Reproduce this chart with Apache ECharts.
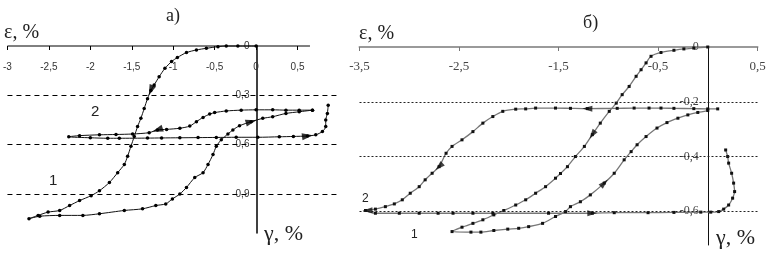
<!DOCTYPE html>
<html lang="ru">
<head>
<meta charset="UTF-8">
<title>ε – γ</title>
<script src="https://cdn.jsdelivr.net/npm/echarts@6/dist/echarts.min.js"></script>
<style>
    html, body { margin: 0; padding: 0; background: #fff; }
    #chart { width: 771px; height: 262px; }
</style>
</head>
<body>
<div id="chart"></div>
<script>
// ---- panel a) ----
var ticksA = [-3, -2.5, -2, -1.5, -1, -0.5, 0, 0.5];
var levelsA = [0, -0.3, -0.6, -0.9];
var gridLinesA = [-0.3, -0.6, -0.9];
var axisEndA = 0.65;
var curveA1 = [
    [0, 0], [-0.22, 0], [-0.36, 0], [-0.46, -0.004], [-0.6, -0.014], [-0.72, -0.024], [-0.84, -0.04],
    [-0.95, -0.07], [-1.02, -0.095], [-1.1, -0.136], [-1.17, -0.187], [-1.23, -0.237], [-1.27, -0.27],
    [-1.31, -0.32], [-1.35, -0.38], [-1.39, -0.44], [-1.43, -0.49], [-1.47, -0.55], [-1.51, -0.61],
    [-1.55, -0.67], [-1.59, -0.72], [-1.67, -0.77], [-1.77, -0.83], [-1.89, -0.88], [-1.99, -0.91],
    [-2.13, -0.94], [-2.25, -0.97], [-2.37, -1.0], [-2.51, -1.01], [-2.63, -1.03], [-2.74, -1.05],
    [-2.61, -1.035], [-2.37, -1.03], [-2.09, -1.03], [-1.89, -1.02], [-1.59, -1.0], [-1.37, -0.99],
    [-1.21, -0.97], [-1.09, -0.96], [-1.01, -0.93], [-0.92, -0.9], [-0.84, -0.86], [-0.74, -0.8],
    [-0.64, -0.77], [-0.58, -0.72], [-0.52, -0.66], [-0.48, -0.61], [-0.42, -0.57], [-0.34, -0.535],
    [-0.28, -0.51], [-0.2, -0.485], [-0.06, -0.46], [0.08, -0.44], [0.2, -0.43], [0.36, -0.41],
    [0.52, -0.4], [0.68, -0.39]
];
var curveA2 = [
    [0.68, -0.39], [0.52, -0.39], [0.36, -0.39], [0.2, -0.388], [0, -0.388], [-0.18, -0.39],
    [-0.36, -0.395], [-0.5, -0.405], [-0.56, -0.414], [-0.64, -0.434], [-0.72, -0.46], [-0.8, -0.487],
    [-0.92, -0.5], [-1.08, -0.507], [-1.19, -0.51], [-1.29, -0.527], [-1.49, -0.535], [-1.69, -0.538],
    [-1.89, -0.54], [-2.13, -0.545], [-2.26, -0.552], [-2.0, -0.558], [-1.79, -0.561], [-1.65, -0.561],
    [-1.31, -0.56], [-1.14, -0.559], [-0.92, -0.558], [-0.7, -0.557], [-0.48, -0.556], [-0.24, -0.555],
    [0.02, -0.555], [0.28, -0.552], [0.45, -0.55], [0.62, -0.547], [0.72, -0.54], [0.8, -0.52],
    [0.84, -0.49], [0.84, -0.45], [0.86, -0.41], [0.87, -0.36]
];
// arrow: [x, y, x ahead, y ahead]
var arrowsA = [
    [-1.27, -0.27, -1.31, -0.32],
    [-0.06, -0.46, 0.08, -0.44],
    [-1.19, -0.51, -1.29, -0.527],
    [0.62, -0.547, 0.72, -0.54]
];

// ---- panel б) ----
var ticksB = [-3.5, -2.5, -1.5, -0.5, 0.5];
var levelsB = [0, -0.2, -0.4, -0.6];
var gridLinesB = [-0.2, -0.4, -0.6];
var curveB1 = [
    [0, 0], [-0.14, -0.004], [-0.24, -0.007], [-0.34, -0.012], [-0.47, -0.02], [-0.57, -0.034],
    [-0.62, -0.058], [-0.67, -0.083], [-0.72, -0.107], [-0.79, -0.144], [-0.86, -0.174], [-0.92, -0.205],
    [-0.99, -0.235], [-1.08, -0.278], [-1.16, -0.32], [-1.24, -0.363], [-1.33, -0.4], [-1.41, -0.437],
    [-1.48, -0.462], [-1.53, -0.479], [-1.63, -0.51], [-1.73, -0.534], [-1.83, -0.558], [-1.93, -0.577],
    [-2.05, -0.597], [-2.15, -0.613], [-2.26, -0.631], [-2.36, -0.644], [-2.47, -0.658], [-2.57, -0.674],
    [-2.38, -0.676], [-2.28, -0.676], [-2.15, -0.67], [-2.01, -0.665], [-1.9, -0.662], [-1.8, -0.656],
    [-1.66, -0.644], [-1.53, -0.619], [-1.43, -0.601], [-1.38, -0.583], [-1.28, -0.565], [-1.18, -0.54],
    [-1.04, -0.497], [-0.94, -0.461], [-0.84, -0.412], [-0.77, -0.382], [-0.71, -0.357], [-0.62, -0.327],
    [-0.51, -0.296], [-0.41, -0.276], [-0.3, -0.26], [-0.2, -0.248], [-0.1, -0.239], [0, -0.232]
];
var curveB2 = [
    [0.1, -0.226], [0, -0.226], [-0.14, -0.225], [-0.34, -0.224], [-0.47, -0.223], [-0.59, -0.223],
    [-0.74, -0.223], [-0.91, -0.224], [-1.21, -0.225], [-1.38, -0.224], [-1.53, -0.223], [-1.73, -0.223],
    [-1.83, -0.226], [-1.93, -0.227], [-2.06, -0.235], [-2.16, -0.254], [-2.26, -0.278], [-2.36, -0.309],
    [-2.47, -0.339], [-2.57, -0.363], [-2.63, -0.388], [-2.7, -0.437], [-2.77, -0.461], [-2.84, -0.485],
    [-2.9, -0.51], [-2.99, -0.534], [-3.07, -0.558], [-3.15, -0.573], [-3.24, -0.583], [-3.34, -0.592],
    [-3.44, -0.597], [-3.34, -0.607], [-3.1, -0.607], [-2.9, -0.607], [-2.71, -0.607], [-2.56, -0.607],
    [-2.36, -0.607], [-2.16, -0.607], [-1.6, -0.607], [-1.16, -0.607], [-0.94, -0.605], [-0.6, -0.605],
    [-0.34, -0.604], [-0.07, -0.603], [0.03, -0.603], [0.11, -0.601], [0.16, -0.592], [0.21, -0.577],
    [0.25, -0.552], [0.27, -0.528], [0.26, -0.497], [0.24, -0.461], [0.21, -0.424], [0.2, -0.4],
    [0.18, -0.376]
];
var arrowsB = [
    [-1.16, -0.32, -1.24, -0.363],
    [-1.04, -0.497, -0.94, -0.461],
    [-1.21, -0.225, -1.38, -0.224],
    [-2.7, -0.437, -2.77, -0.461],
    [-1.16, -0.607, -0.94, -0.605],
    [-3.42, -0.597, -3.5, -0.598]
];

function fmt(v) {
    return String(v).replace('.', ',');
}

var SERIF = '"Liberation Serif", "DejaVu Serif", serif';
var SANS = '"Liberation Sans", Arial, sans-serif';

var gridA = { left: 7, top: 46, width: 329.5, height: 187, xMin: -3, xMax: 0.97 };
var gridB = { left: 359.5, top: 47, width: 398, height: 198, xMin: -3.5, xMax: 0.5 };

// distance from the grid's left edge to gamma = 0, so the eps axis sits there
function zeroOffset(g) {
    return -g.width * (0 - g.xMin) / (g.xMax - g.xMin);
}

var chart = echarts.init(document.getElementById('chart'), null, { renderer: 'canvas' });

function txt(x, y, text, size, family, color) {
    return {
        type: 'text', x: x, y: y, silent: true,
        style: { text: text, font: size + 'px ' + family, fill: color || '#222', verticalAlign: 'middle' }
    };
}

var option = {
    backgroundColor: '#fff',
    animation: false,
    grid: [
        { left: gridA.left, top: gridA.top, width: gridA.width, height: gridA.height },
        { left: gridB.left, top: gridB.top, width: gridB.width, height: gridB.height }
    ],
    xAxis: [
        {
            type: 'value', gridIndex: 0, position: 'top', min: gridA.xMin, max: gridA.xMax,
            axisLine: { show: false },
            axisTick: { show: true, inside: true, length: 4, customValues: ticksA, lineStyle: { color: '#000' } },
            axisLabel: {
                inside: true, margin: 16, customValues: ticksA, formatter: fmt,
                fontSize: 10, fontFamily: SANS, color: '#333'
            },
            splitLine: { show: false }
        },
        {
            type: 'value', gridIndex: 1, position: 'top', min: gridB.xMin, max: gridB.xMax,
            axisLine: { show: true, lineStyle: { color: '#9a9a9a', width: 2 } },
            axisTick: { show: true, inside: true, length: 4, customValues: ticksB, lineStyle: { color: '#777' } },
            axisLabel: {
                inside: true, margin: 13, customValues: ticksB, formatter: fmt,
                fontSize: 13, fontFamily: SERIF, color: '#444'
            },
            splitLine: { show: false }
        }
    ],
    yAxis: [
        {
            type: 'value', gridIndex: 0, min: -1.137, max: 0, position: 'left',
            offset: zeroOffset(gridA),
            axisLine: { show: true, onZero: false, lineStyle: { color: '#000', width: 1.5 } },
            axisTick: { show: false },
            axisLabel: {
                margin: 7, customValues: levelsA, formatter: fmt,
                fontSize: 10, fontFamily: SANS, color: '#333'
            },
            splitLine: { show: false }
        },
        {
            type: 'value', gridIndex: 1, min: -0.723, max: 0, position: 'left',
            offset: zeroOffset(gridB),
            axisLine: { show: true, onZero: false, lineStyle: { color: '#111', width: 1 } },
            axisTick: { show: false },
            axisLabel: {
                margin: 9, customValues: levelsB, formatter: fmt,
                fontSize: 12, fontFamily: SERIF, color: '#444'
            },
            splitLine: { show: false }
        }
    ],
    series: [
        {
            // axis line of panel a (ends short of the plot edge) + dashed levels
            type: 'line', xAxisIndex: 0, yAxisIndex: 0, silent: true, clip: false,
            data: [[gridA.xMin, 0], [axisEndA, 0]], symbol: 'none',
            lineStyle: { color: '#000', width: 1 },
            markLine: {
                silent: true, symbol: 'none', label: { show: false },
                lineStyle: { color: '#000', type: [5, 4], width: 1 },
                data: gridLinesA.map(function (v) { return { yAxis: v }; })
            }
        },
        {
            type: 'line', xAxisIndex: 1, yAxisIndex: 1, silent: true, data: [],
            markLine: {
                silent: true, symbol: 'none', label: { show: false },
                lineStyle: { color: '#222', type: [2, 2], width: 1 },
                data: gridLinesB.map(function (v) { return { yAxis: v }; })
            }
        },
        {
            name: '1a', type: 'line', xAxisIndex: 0, yAxisIndex: 0, data: curveA1, clip: false,
            smooth: 0.25, symbol: 'circle', symbolSize: 3.5,
            lineStyle: { color: '#111', width: 1 }, itemStyle: { color: '#000' }
        },
        {
            name: '2a', type: 'line', xAxisIndex: 0, yAxisIndex: 0, data: curveA2, clip: false,
            smooth: 0.25, symbol: 'circle', symbolSize: 3.5,
            lineStyle: { color: '#111', width: 1 }, itemStyle: { color: '#000' }
        },
        {
            name: '1b', type: 'line', xAxisIndex: 1, yAxisIndex: 1, data: curveB1, clip: false,
            smooth: 0.25, symbol: 'rect', symbolSize: 3,
            lineStyle: { color: '#777', width: 1.3 }, itemStyle: { color: '#111' }
        },
        {
            name: '2b', type: 'line', xAxisIndex: 1, yAxisIndex: 1, data: curveB2, clip: false,
            smooth: 0.25, symbol: 'rect', symbolSize: 3,
            lineStyle: { color: '#777', width: 1.3 }, itemStyle: { color: '#111' }
        },
        {
            id: 'arrA', type: 'scatter', xAxisIndex: 0, yAxisIndex: 0, data: [],
            symbol: 'triangle', symbolSize: [7, 11], itemStyle: { color: '#000' }, z: 5
        },
        {
            id: 'arrB', type: 'scatter', xAxisIndex: 1, yAxisIndex: 1, data: [],
            symbol: 'triangle', symbolSize: [6, 10], itemStyle: { color: '#111' }, z: 5
        }
    ],
    graphic: [
        txt(4, 33, 'ε, %', 20, SERIF),
        txt(166, 16, 'а)', 18, SERIF),
        txt(264, 234, 'γ, %', 22, SERIF),
        txt(91, 112, '2', 15, SANS),
        txt(49, 181, '1', 15, SANS),
        txt(359, 34, 'ε, %', 20, SERIF),
        txt(583, 23, 'б)', 18, SERIF),
        txt(716, 238, 'γ, %', 22, SERIF),
        txt(362, 199, '2', 12, SANS),
        txt(411, 235, '1', 12, SANS)
    ]
};

chart.setOption(option);

// turn each arrowhead along the curve, measured in screen pixels
function arrowItems(list, grid) {
    return list.map(function (a) {
        var p = chart.convertToPixel({ gridIndex: grid }, [a[0], a[1]]);
        var q = chart.convertToPixel({ gridIndex: grid }, [a[2], a[3]]);
        var ang = Math.atan2(-(q[1] - p[1]), q[0] - p[0]) * 180 / Math.PI;
        return { value: [a[0], a[1]], symbolRotate: ang - 90 };
    });
}

chart.setOption({
    series: [
        { id: 'arrA', data: arrowItems(arrowsA, 0) },
        { id: 'arrB', data: arrowItems(arrowsB, 1) }
    ]
});
</script>
</body>
</html>
